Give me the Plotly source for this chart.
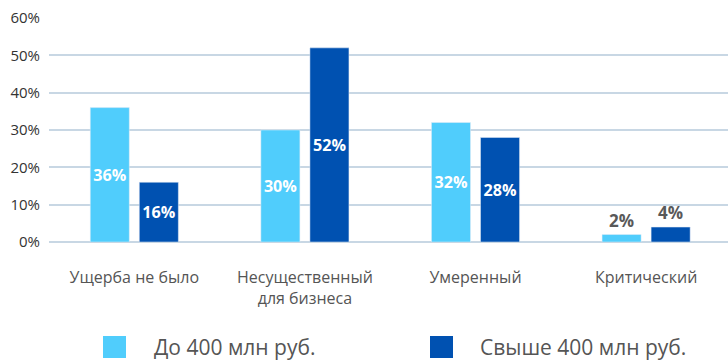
import plotly.graph_objects as go

categories = ["Ущерба не было", "Несущественный<br>для бизнеса", "Умеренный", "Критический"]
small_biz = [36, 30, 32, 2]
large_biz = [16, 52, 28, 4]
series_names = ["До 400 млн руб.", "Свыше 400 млн руб."]
y_ticks = [0, 10, 20, 30, 40, 50, 60]
y_tick_labels = [f"{v}%" for v in y_ticks]

light_blue = "#50CDFC"
dark_blue = "#0051B1"
label_gray = "#595959"

W, H = 728, 360
M_L, M_R, M_T, M_B = 49, 0, 18, 118


def px_to_paper_x(px):
    return (px - M_L) / (W - M_L - M_R)


def px_to_paper_y(py):
    return (H - M_B - py) / (H - M_T - M_B)


def text_positions(values):
    return ["outside" if v < 8 else "inside" for v in values]


def text_colors(values):
    return [label_gray if v < 8 else "white" for v in values]


series = [(series_names[0], small_biz, light_blue),
          (series_names[1], large_biz, dark_blue)]

fig = go.Figure()
for name, values, color in series:
    fig.add_trace(go.Bar(
        x=categories, y=values, name=name, marker_color=color,
        text=[f"{v}%" for v in values],
        textposition=text_positions(values),
        insidetextanchor="middle", textangle=0,
        textfont=dict(family="Open Sans", size=17, color=text_colors(values), weight="bold"),
        cliponaxis=False,
        showlegend=False,
    ))

# Legend below the chart: large colour swatches with series names
legend_swatch_left = [103, 430]
legend_text_left = [152, 478]
swatch_top, swatch_bottom, legend_mid = 336, 358, 347
for (name, _, color), sx, tx in zip(series, legend_swatch_left, legend_text_left):
    fig.add_shape(
        type="rect", xref="paper", yref="paper",
        x0=px_to_paper_x(sx), x1=px_to_paper_x(sx + 23),
        y0=px_to_paper_y(swatch_bottom), y1=px_to_paper_y(swatch_top),
        fillcolor=color, line_width=0,
    )
    fig.add_annotation(
        text=name, xref="paper", yref="paper",
        x=px_to_paper_x(tx), y=px_to_paper_y(legend_mid),
        xanchor="left", yanchor="middle", showarrow=False,
        font=dict(family="Open Sans", size=21, color="#555555"),
    )

fig.update_layout(
    width=W, height=H,
    margin=dict(l=M_L, r=M_R, t=M_T, b=M_B),
    plot_bgcolor="white", paper_bgcolor="white",
    barmode="group", bargap=0.425, bargroupgap=0.204,
    font=dict(family="Open Sans", color="#333333"),
    showlegend=False,
    xaxis=dict(
        range=[-0.5, 3.48], showgrid=False, showline=False, zeroline=False,
        ticks="", ticklabelstandoff=24,
        tickfont=dict(family="Open Sans", size=16, color="#555555"),
        fixedrange=True,
    ),
    yaxis=dict(
        range=[0, 60], tickvals=y_ticks, ticktext=y_tick_labels,
        showgrid=True, gridcolor="#C8D7E4", gridwidth=2,
        zeroline=True, zerolinecolor="#C8D7E4", zerolinewidth=2,
        showline=False, ticks="", ticklabelstandoff=8,
        tickfont=dict(family="Open Sans", size=15, color="#333333"),
        fixedrange=True,
    ),
)

fig.write_html("out.html")
